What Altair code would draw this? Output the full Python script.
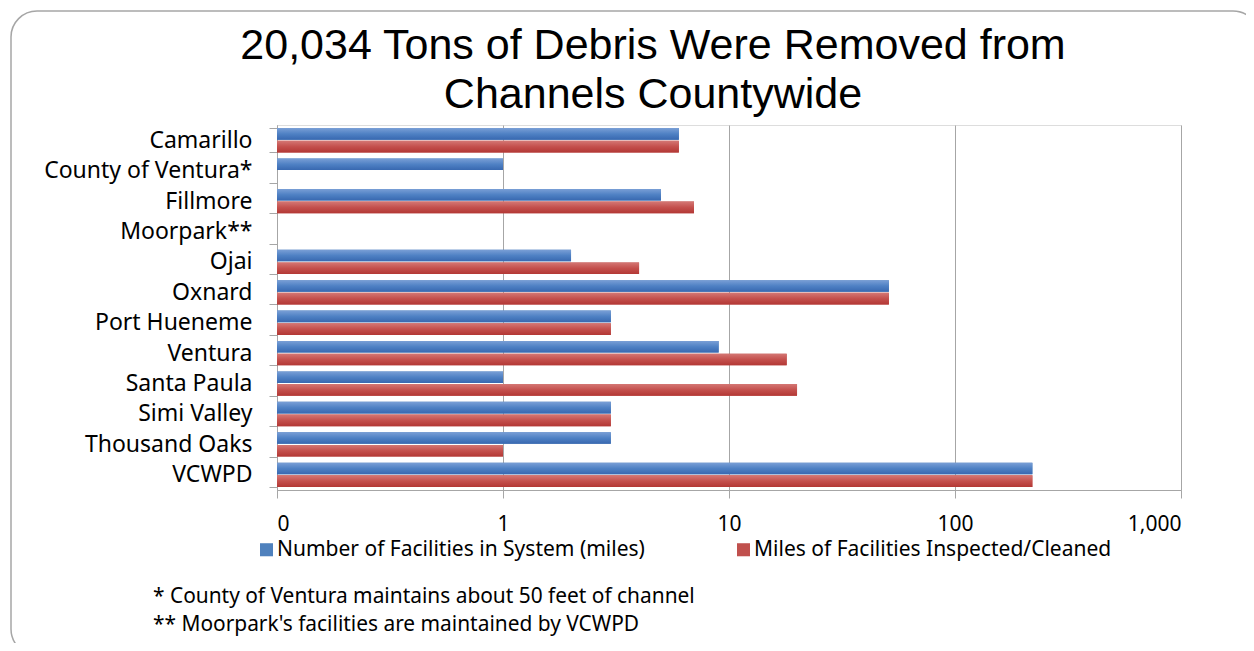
import altair as alt
import pandas as pd

cities = ["Camarillo", "County of Ventura*", "Fillmore", "Moorpark**", "Ojai", "Oxnard",
          "Port Hueneme", "Ventura", "Santa Paula", "Simi Valley", "Thousand Oaks", "VCWPD"]
facilities = [6, 1, 5, None, 2, 51, 3, 9, 1, 3, 3, 220]
inspected = [6, None, 7, None, 4, 51, 3, 18, 20, 3, 1, 220]
series_names = ["Number of Facilities in System (miles)", "Miles of Facilities Inspected/Cleaned"]
tick_values = [0.1, 1, 10, 100, 1000]
title_lines = ["20,034 Tons of Debris Were Removed from", "Channels Countywide"]
footnotes = ["* County of Ventura maintains about 50 feet of channel",
             "** Moorpark's facilities are maintained by VCWPD"]

rows = []
for c, a, b in zip(cities, facilities, inspected):
    if a is not None:
        rows.append({"city": c, "series": series_names[0], "value": a})
    if b is not None:
        rows.append({"city": c, "series": series_names[1], "value": b})
df = pd.DataFrame(rows)

BLUE = "#4F81BD"
RED = "#C0504D"
GRID = "#a6a6a6"
LBL_FONT = "Noto Sans"

grad_blue = {"gradient": "linear", "x1": 0, "y1": 0, "x2": 0, "y2": 1,
             "stops": [{"offset": 0, "color": "#7a9fd6"}, {"offset": 0.5, "color": "#4f81c4"},
                       {"offset": 1, "color": "#3868b0"}]}
grad_red = {"gradient": "linear", "x1": 0, "y1": 0, "x2": 0, "y2": 1,
            "stops": [{"offset": 0, "color": "#d47774"}, {"offset": 0.5, "color": "#c4504d"},
                      {"offset": 1, "color": "#b33835"}]}

x_enc = alt.X("value:Q",
              scale=alt.Scale(type="log", domain=[0.1, 1000], nice=False),
              axis=alt.Axis(values=tick_values, title=None, grid=True, gridColor=GRID,
                            domainColor=GRID, tickColor=GRID, tickSize=8,
                            labelExpr="datum.value < 0.5 ? '0' : format(datum.value, ',')",
                            labelFont=LBL_FONT, labelFontSize=21, labelColor="black",
                            labelPadding=15))
y_enc = alt.Y("city:N", sort=cities,
              scale=alt.Scale(domain=cities, paddingInner=0.2, paddingOuter=0.1),
              axis=alt.Axis(title=None, grid=False, tickBand="extent", domainColor=GRID,
                            tickColor=GRID, tickSize=8, labelFont=LBL_FONT, labelFontSize=23,
                            labelColor="black", labelPadding=17, labelLimit=400))
yoff = alt.YOffset("series:N", scale=alt.Scale(domain=series_names, paddingInner=0.08))

base = alt.Chart(df)

legend_layer = base.mark_bar().encode(
    x=x_enc, x2=alt.datum(0.1), y=y_enc, yOffset=yoff,
    color=alt.Color("series:N", scale=alt.Scale(domain=series_names, range=[BLUE, RED]),
                    legend=alt.Legend(title=None, orient="none", legendX=-21, legendY=414,
                                      direction="horizontal", symbolType="square",
                                      symbolSize=170, symbolStrokeWidth=0,
                                      labelFont=LBL_FONT, labelFontSize=21, labelColor="black",
                                      columnPadding=88, labelLimit=600, labelOffset=0)),
)

grad_layer = base.mark_bar().encode(
    x=x_enc, x2=alt.datum(0.1), y=y_enc, yOffset=yoff,
    fill=alt.condition(f"datum.series === '{series_names[0]}'",
                       alt.value(grad_blue), alt.value(grad_red)),
)

one = pd.DataFrame({"k": [0]})

frame = alt.Chart(one).mark_rect(
    filled=False, stroke="#a6a6a6", strokeWidth=1.5, cornerRadius=26
).encode(x=alt.value(-266), x2=alt.value(982), y=alt.value(-114), y2=alt.value(530))

title = alt.Chart(one).mark_text(
    text=title_lines, align="center", baseline="alphabetic", font="Liberation Sans",
    fontSize=43, lineHeight=49, color="black"
).encode(x=alt.value(376), y=alt.value(-66))

notes = alt.Chart(one).mark_text(
    text=footnotes, align="left", baseline="middle", font=LBL_FONT, fontSize=20.9,
    lineHeight=28, color="black"
).encode(x=alt.value(-124), y=alt.value(472))

chart = alt.layer(frame, legend_layer, grad_layer, title, notes).properties(
    width=904, height=365,
    autosize=alt.AutoSizeParams(type="none"),
    padding={"left": 269, "top": 117, "right": 65, "bottom": 153},
).configure_view(strokeWidth=0).configure(background="white")

chart.save("out.html", embed_options={"renderer": "svg", "actions": False})
